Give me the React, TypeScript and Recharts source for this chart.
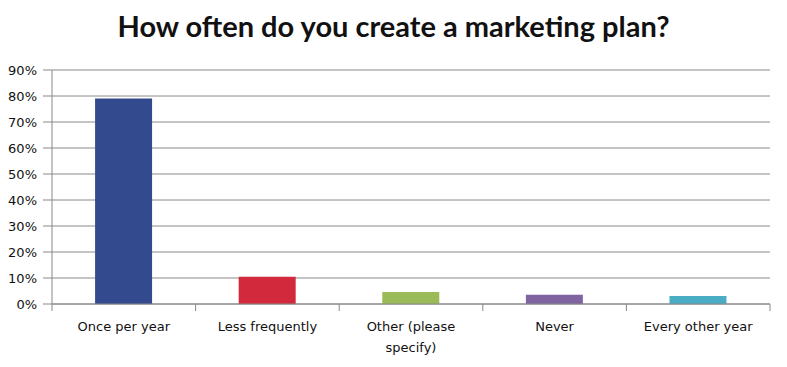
import { BarChart, Bar, XAxis, YAxis, CartesianGrid, Cell, Text } from 'recharts';

// survey answers, share of respondents in %
const answers = ['Once per year', 'Less frequently', 'Other (please specify)', 'Never', 'Every other year'];
const shares = [79.0, 10.5, 4.6, 3.6, 3.1];
const barColors = ['#344A8F', '#D22A3C', '#9BBB59', '#8064A2', '#4BACC6'];
const yTicks = [0, 10, 20, 30, 40, 50, 60, 70, 80, 90];

const data = answers.map((answer, i) => ({ answer, share: shares[i] }));

const W = 787;
const H = 367;
const margin = { top: 70, right: 17, bottom: 0, left: 0 };
const yAxisWidth = 52;
const band = (W - margin.left - margin.right - yAxisWidth) / answers.length;

const CategoryTick = (props: any) => {
  const { x, y, payload, index } = props;
  const left = x - band / 2;
  return (
    <g>
      <line x1={left} y1={y - 8} x2={left} y2={y - 1} stroke="#888" />
      {index === answers.length - 1 && (
        <line x1={left + band} y1={y - 8} x2={left + band} y2={y - 1} stroke="#888" />
      )}
      <Text
        x={x}
        y={y + 10}
        width={130}
        textAnchor="middle"
        verticalAnchor="start"
        fontSize={13}
        fill="#111"
        fontFamily="DejaVu Sans"
        lineHeight={21}
      >
        {payload.value}
      </Text>
    </g>
  );
};

export default function App() {
  return (
    <div style={{ width: W, height: H, background: '#fff', position: 'relative' }}>
      <style>{'body{margin:0}'}</style>
      <div
        style={{
          position: 'absolute',
          top: 8,
          left: 0,
          width: W,
          textAlign: 'center',
          fontFamily: 'Lato',
          fontWeight: 700,
          fontSize: 29,
          color: '#111',
        }}
      >
        How often do you create a marketing plan?
      </div>
      <BarChart width={W} height={H} data={data} margin={margin} barCategoryGap="30%">
        <CartesianGrid vertical={false} stroke="#8a8a8a" />
        <XAxis
          dataKey="answer"
          interval={0}
          height={63}
          axisLine={{ stroke: '#888' }}
          tickLine={false}
          tick={<CategoryTick />}
        />
        <YAxis
          width={yAxisWidth}
          domain={[0, 90]}
          ticks={yTicks}
          interval={0}
          tickFormatter={(v: number) => `${v}%`}
          axisLine={{ stroke: '#888' }}
          tickLine={{ stroke: '#888' }}
          tickSize={9}
          tick={{ fontSize: 13, fill: '#111', fontFamily: 'DejaVu Sans', dx: -4 }}
        />
        <Bar dataKey="share" isAnimationActive={false}>
          {data.map((d, i) => (
            <Cell key={d.answer} fill={barColors[i]} />
          ))}
        </Bar>
      </BarChart>
    </div>
  );
}
